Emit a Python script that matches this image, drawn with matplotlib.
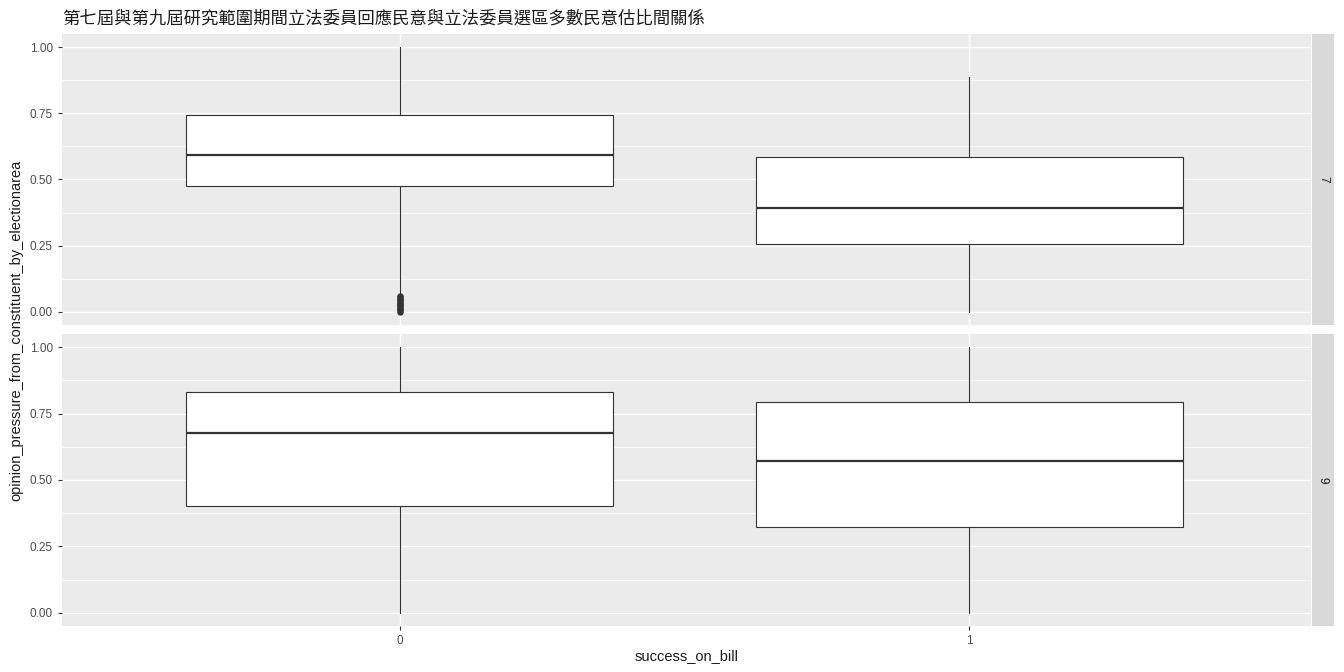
import matplotlib
matplotlib.use("Agg")
import matplotlib.pyplot as plt

plt.rcParams['font.family'] = ['Liberation Sans', 'Noto Sans CJK TC', 'DejaVu Sans']

# data
terms = ['7', '9']
groups = [0, 1]
# per term: [whislo, q1, med, q3, whishi] for group 0 and group 1
stats_7 = [[0.068, 0.474, 0.594, 0.744, 1.00],
           [0.000, 0.256, 0.391, 0.586, 0.887]]
stats_9 = [[0.000, 0.401, 0.678, 0.831, 1.00],
           [0.000, 0.322, 0.573, 0.794, 1.00]]
fliers_7 = [[0.0, 0.005, 0.01, 0.015, 0.02, 0.025, 0.03, 0.035, 0.04, 0.045, 0.05, 0.055, 0.06], []]
fliers_9 = [[], []]

title = '第七屆與第九屆研究範圍期間立法委員回應民意與立法委員選區多數民意估比間關係'
xlab = 'success_on_bill'
ylab = 'opinion_pressure_from_constituent_by_electionarea'
yticks = [0.0, 0.25, 0.5, 0.75, 1.0]

fig = plt.figure(figsize=(13.44, 6.72), dpi=100)
W, H = 1344, 672
panels = [(34, 325), (334, 626)]
all_stats = [stats_7, stats_9]
all_fliers = [fliers_7, fliers_9]

for i, (top, bot) in enumerate(panels):
    ax = fig.add_axes([62 / W, 1 - bot / H, (1311 - 62) / W, (bot - top) / H])
    ax.set_facecolor('#EBEBEB')
    bxp = []
    for g, s, fl in zip(groups, all_stats[i], all_fliers[i]):
        bxp.append(dict(whislo=s[0], q1=s[1], med=s[2], q3=s[3], whishi=s[4],
                        fliers=fl, label=str(g)))
    ax.bxp(bxp, positions=groups, widths=0.75, patch_artist=True, showcaps=False,
           boxprops=dict(facecolor='white', edgecolor='#333333', linewidth=0.8),
           medianprops=dict(color='#333333', linewidth=1.6),
           whiskerprops=dict(color='#333333', linewidth=0.8),
           flierprops=dict(marker='o', markerfacecolor='#333333', markeredgecolor='#333333',
                           markersize=3.6, linestyle='none'),
           zorder=3)
    ax.set_xlim(-0.593, 1.6)
    ax.set_ylim(-0.05, 1.05)
    ax.set_yticks(yticks)
    ax.set_yticklabels(['%.2f' % v for v in yticks])
    ax.set_yticks([0.125, 0.375, 0.625, 0.875], minor=True)
    ax.set_xticks(groups)
    ax.grid(True, which='major', color='white', linewidth=1.0, zorder=0)
    ax.grid(True, which='minor', axis='y', color='white', linewidth=0.5, zorder=0)
    ax.set_axisbelow(True)
    for sp in ax.spines.values():
        sp.set_visible(False)
    ax.tick_params(axis='both', which='major', colors='#333333', labelcolor='#4D4D4D',
                   labelsize=8.5, length=3, width=0.8)
    ax.tick_params(axis='y', which='minor', length=0)
    if i == 0:
        ax.tick_params(axis='x', length=0, labelbottom=False)
    else:
        ax.set_xticklabels([str(g) for g in groups])
    # strip on the right
    sax = fig.add_axes([1312 / W, 1 - bot / H, (1334 - 1312) / W, (bot - top) / H])
    sax.set_facecolor('#D9D9D9')
    sax.set_xticks([])
    sax.set_yticks([])
    for sp in sax.spines.values():
        sp.set_visible(False)
    sax.text(0.5, 0.5, terms[i], rotation=-90, ha='center', va='center',
             fontsize=8.5, color='#1A1A1A', transform=sax.transAxes)

fig.text(62 / W, 1 - 18 / H, title, fontsize=12.5, color='#1A1A1A', va='center', ha='left')
fig.text((62 + 1311) / 2 / W, 1 - 656 / H, xlab, fontsize=10.5, color='#1A1A1A',
         ha='center', va='center')
fig.text(16 / W, 1 - 330 / H, ylab, fontsize=10.5, color='#1A1A1A', rotation=90,
         ha='center', va='center')

fig.savefig('out.png', dpi=100, facecolor='white')
